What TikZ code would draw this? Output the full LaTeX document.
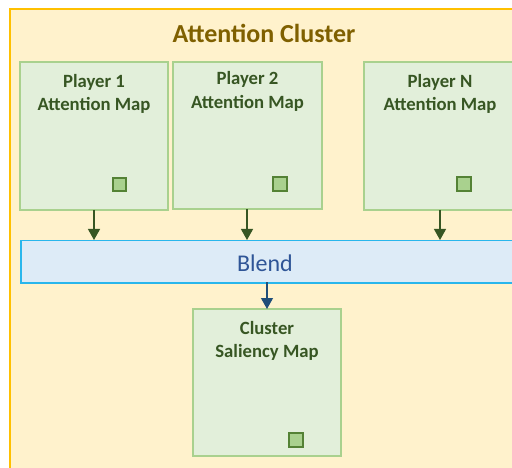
\documentclass[tikz,border=0pt]{standalone}
\usepackage{fontspec}
\setmainfont{Carlito}
\usetikzlibrary{arrows.meta}
\definecolor{clfill}{HTML}{FFF2CC}
\definecolor{clline}{HTML}{FFC000}
\definecolor{cltext}{HTML}{7F6000}
\definecolor{mapfill}{HTML}{E2EFDA}
\definecolor{mapline}{HTML}{A9D18E}
\definecolor{maptext}{HTML}{375623}
\definecolor{sqline}{HTML}{548235}
\definecolor{blfill}{HTML}{DDEBF7}
\definecolor{blline}{HTML}{29B6EC}
\definecolor{bltext}{HTML}{2F5597}
\definecolor{blarrow}{HTML}{1F4E79}
\tikzset{
  mapbox/.style={draw=mapline, fill=mapfill, line width=1.5pt},
  sqbox/.style={draw=sqline, fill=mapline, line width=1.2pt},
  maplabel/.style={anchor=north, inner sep=0pt, align=center, text=maptext,
    font=\fontsize{18.7}{23.5}\selectfont\bfseries},
  greenarrow/.style={draw=maptext, line width=1.2pt, -{Triangle[width=12pt,length=11pt]}},
  bluearrow/.style={draw=blarrow, line width=1.2pt, -{Triangle[width=12pt,length=11pt]}},
}
\begin{document}
\begin{tikzpicture}[x=1pt,y=-1pt]
\useasboundingbox (0,0) rectangle (512,468);
\clip (0,0) rectangle (512,468);
% cluster
\draw[draw=clline, fill=clfill, line width=1.5pt] (10,9) rectangle (530,480);
\node[text=cltext, font=\fontsize{26}{30}\selectfont\bfseries, anchor=base] (title) at (264,43) {Attention Cluster};
% player boxes
\path[mapbox] (20,62) rectangle (168,210);
\coordinate (p1b) at (94,210);
\node[maplabel] (p1t) at (94,74) {Player 1\\Attention Map};
\path[sqbox] (113,178) rectangle (126,191);
\path[mapbox] (173,62) rectangle (322,209);
\coordinate (p2b) at (247,209);
\node[maplabel] (p2t) at (247.5,71.5) {Player 2\\Attention Map};
\path[sqbox] (273,177) rectangle (287,191);
\path[mapbox] (364,62) rectangle (516,210);
\coordinate (pnb) at (440,210);
\node[maplabel] (pnt) at (440,74) {Player N\\Attention Map};
\path[sqbox] (457,177) rectangle (471,191);
% blend
\node[draw=blline, fill=blfill, line width=1.5pt, minimum width=510pt, minimum height=42pt, anchor=north west, inner sep=0pt] (blend) at (20,240) {};
\node[text=bltext, font=\fontsize{24}{28}\selectfont] (blendt) at (265,263) {Blend};
\coordinate (b1) at (94,240);
\coordinate (b2) at (247,240);
\coordinate (b3) at (440,240);
\coordinate (bb) at (267,282);
% saliency
\path[mapbox] (193,309) rectangle (341,456);
\coordinate (st) at (267,309);
\node[maplabel] (salt) at (267,321) {Cluster\\Saliency Map};
\path[sqbox] (289,433) rectangle (303,447);
% arrows
\draw[greenarrow] (p1b) -- (b1);
\draw[greenarrow] (p2b) -- (b2);
\draw[greenarrow] (pnb) -- (b3);
\draw[bluearrow] (bb) -- (st);
\end{tikzpicture}
\end{document}
